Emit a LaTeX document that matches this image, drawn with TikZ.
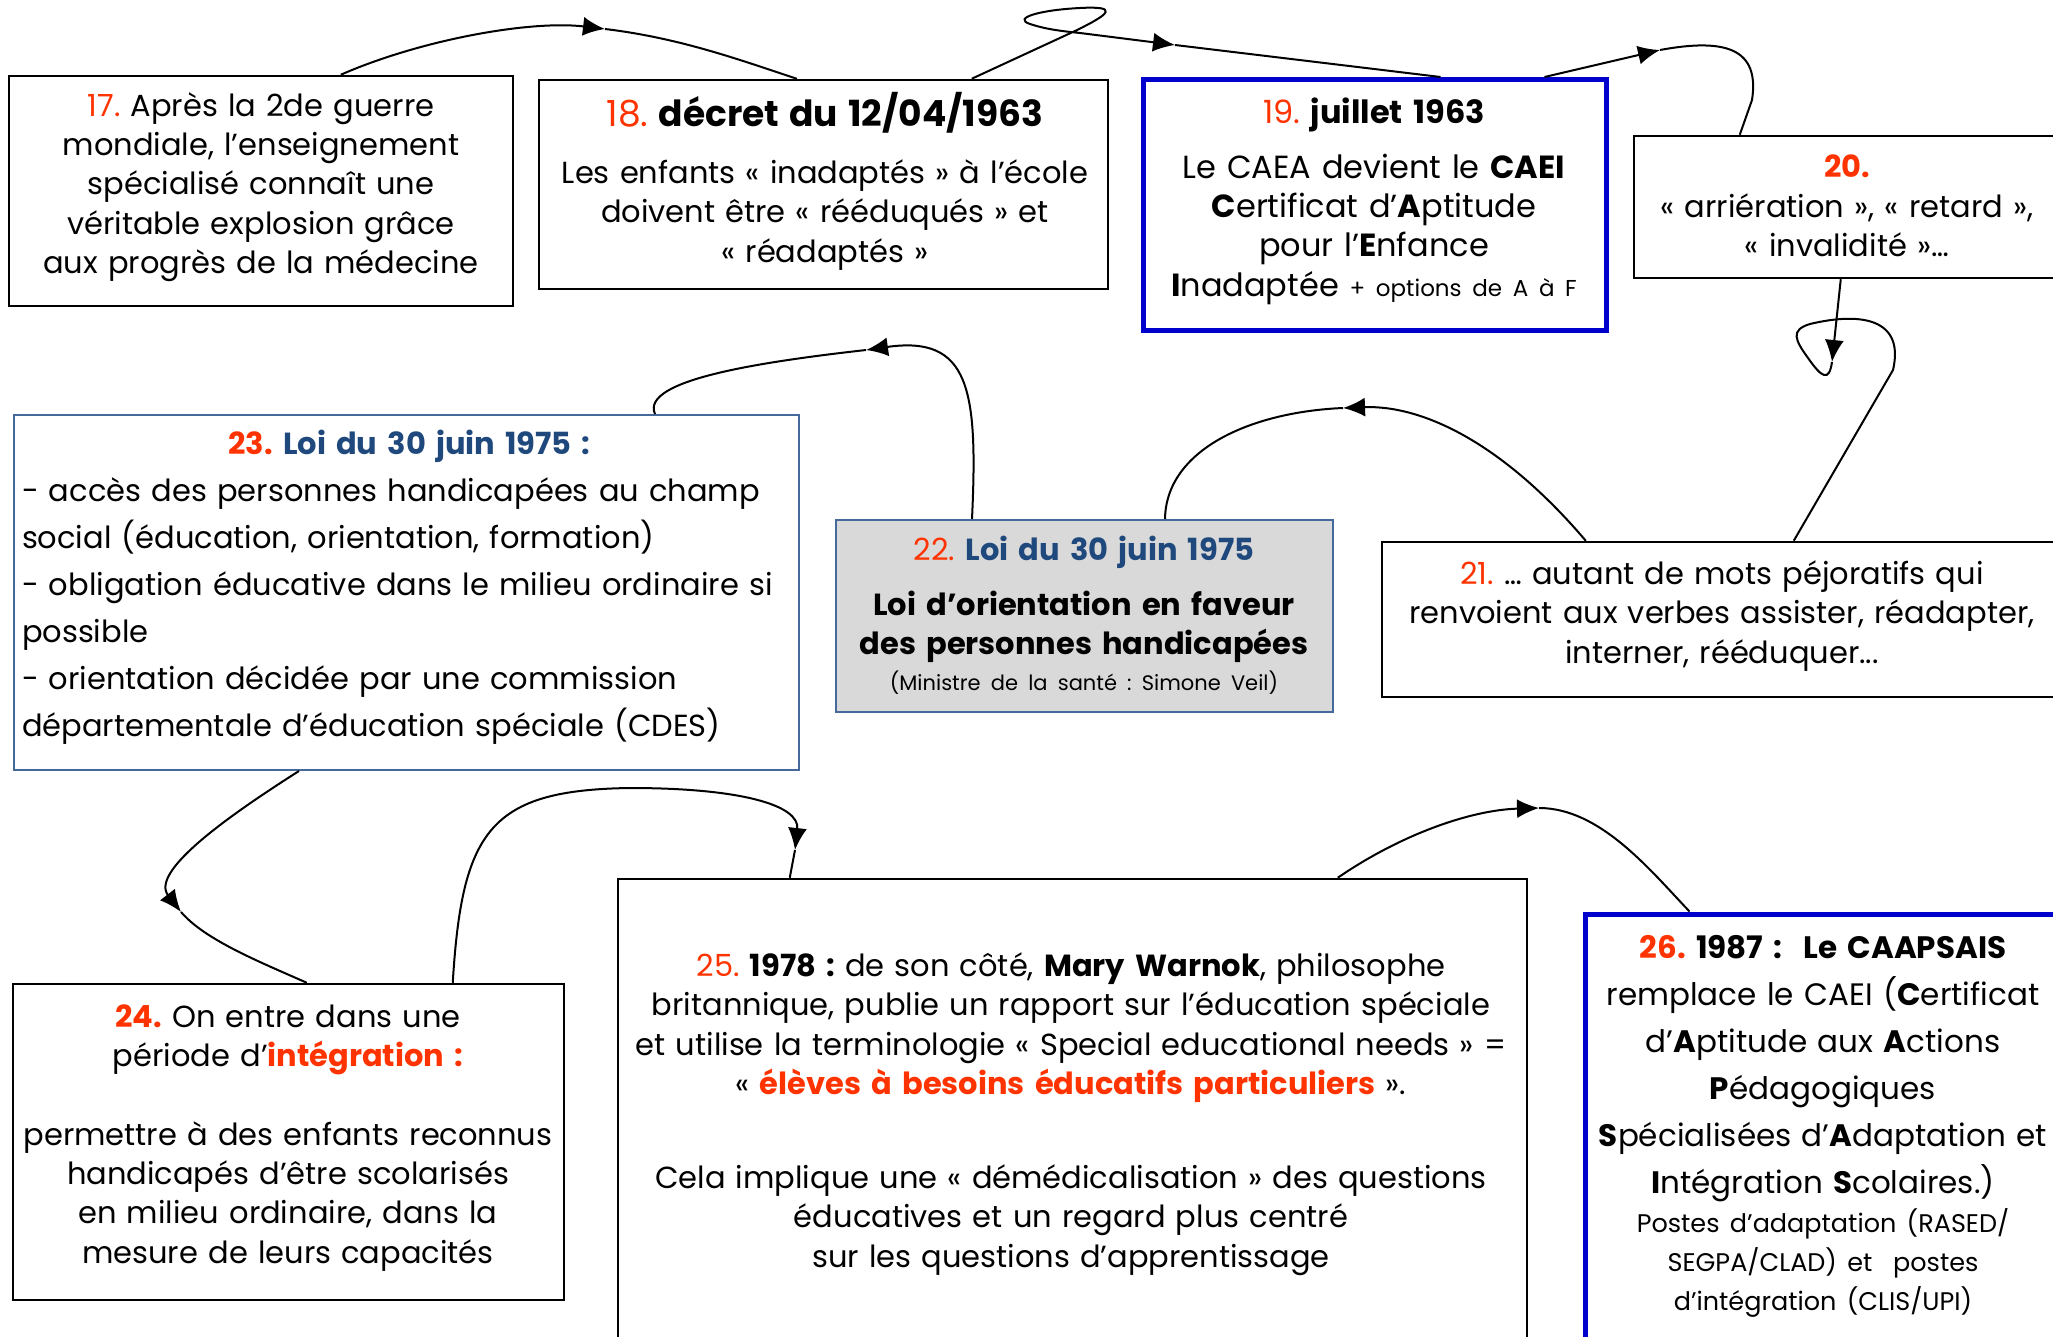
\documentclass[tikz,border=0pt]{standalone}
\usepackage{fontspec}
\setmainfont{Poppins}
\frenchspacing
\usetikzlibrary{arrows.meta,calc}
\definecolor{nummer}{RGB}{255,51,0}
\definecolor{tittel}{RGB}{31,73,125}
\definecolor{blaa}{RGB}{0,0,204}
\definecolor{staal}{RGB}{70,105,155}
\definecolor{graa}{RGB}{217,217,217}
\newcommand{\nr}[1]{\textcolor{nummer}{#1}}
\tikzset{
    %Define standard arrow tip
    >={Latex[length=22pt,width=19pt]},
    %Define style for boxes
    boks/.style={
           rectangle,
           draw=black, line width=2.5pt,
           inner sep=0pt},
    boksblaa/.style={boks, draw=blaa, line width=5pt},
    bokslov/.style={boks, draw=staal, line width=2pt},
    tekst/.style={
           align=center,
           inner sep=0pt,
           font=\fontsize{30.5}{39.3}\selectfont},
    % Define arrow style
    pil/.style={line width=2pt}
}
\begin{document}
\begin{tikzpicture}[x=1pt,y=-1pt]
\useasboundingbox (0,0) rectangle (2053,1337);
 %boxes
\node[boks, minimum width=504, minimum height=230] (17) at (261,191) {};
\node[boks, minimum width=569, minimum height=209] (18) at (823.5,184.5) {};
\node[boksblaa, minimum width=463, minimum height=251] (19) at (1374.5,205) {};
\node[boks, minimum width=446, minimum height=142] (20) at (1857,207) {};
\node[bokslov, minimum width=785, minimum height=355] (23) at (406.5,592.5) {};
\node[bokslov, fill=graa, minimum width=497, minimum height=192] (22) at (1084.5,616) {};
\node[boks, minimum width=698, minimum height=155] (21) at (1731,619.5) {};
\node[boks, minimum width=551, minimum height=316] (24) at (288.5,1142) {};
\node[boks, minimum width=909, minimum height=481] (25) at (1072.5,1119.5) {};
\node[boksblaa, minimum width=495, minimum height=446] (26) at (1832.5,1137) {};

 %texts
\node[tekst, text width=500] (t17) at (261,187) {\nr{17.} Après la 2de guerre\\ mondiale, l’enseignement\\ spécialisé connaît une\\ véritable explosion grâce\\ aux progrès de la médecine};
\node[tekst, text width=600] (t18) at (825,181) {{\fontsize{36}{44}\selectfont\nr{18.} \textbf{décret du 12/04/1963}}\\[18pt] Les enfants « inadaptés » à l’école\\ doivent être « rééduqués » et\\ « réadaptés »};
\node[tekst, text width=460, font=\fontsize{32}{39.3}\selectfont] (t19) at (1374,201) {\nr{19.} \textbf{juillet 1963}\\[16pt] Le CAEA devient le \textbf{CAEI}\\ \textbf{C}ertificat d’\textbf{A}ptitude\\ pour l’\textbf{E}nfance\\ \textbf{I}nadaptée {\fontsize{23}{28}\selectfont + options de A à F}};
\node[tekst, text width=440] (t20) at (1847,206) {\nr{\textbf{20.}}\\ « arriération », « retard »,\\ « invalidité »…};
\node[tekst, text width=775, align=left, font=\fontsize{30.5}{47}\selectfont] (t23) at (409.5,587) {{\centering\textbf{\nr{23.} \textcolor{tittel}{Loi du 30 juin 1975 :}}\par}
- accès des personnes handicapées au champ\\ social (éducation, orientation, formation)\\ - obligation éducative dans le milieu ordinaire si\\ possible\\ - orientation décidée par une commission\\ départementale d’éducation spéciale (CDES)};
\node[tekst, text width=490] (t22) at (1084,615) {\nr{22.} \textbf{\textcolor{tittel}{Loi du 30 juin 1975}}\\[16pt] \textbf{Loi d’orientation en faveur}\\ \textbf{des personnes handicapées}\\[-4pt] {\fontsize{21}{26}\selectfont (Ministre de la santé : Simone Veil)}};
\node[tekst, text width=680] (t21) at (1722,616) {\nr{21.} … autant de mots péjoratifs qui\\ renvoient aux verbes assister, réadapter,\\ interner, rééduquer...};
\node[tekst, text width=560] (t24) at (288,1138) {\nr{\textbf{24.}} On entre dans une\\ période d’\nr{\textbf{intégration :}}\\[39pt] permettre à des enfants reconnus\\ handicapés d’être scolarisés\\ en milieu ordinaire, dans la\\ mesure de leurs capacités};
\node[tekst, text width=1000] (t25) at (1071,1114) {\nr{25.} \textbf{1978 :} de son côté, \textbf{Mary Warnok}, philosophe\\ britannique, publie un rapport sur l’éducation spéciale\\ et utilise la terminologie « Special educational needs » =\\ « \nr{\textbf{élèves à besoins éducatifs particuliers}} ».\\[55pt] Cela implique une « démédicalisation » des questions\\ éducatives et un regard plus centré\\ sur les questions d’apprentissage};
\node[tekst, text width=520, font=\fontsize{31}{47}\selectfont] (t26) at (1823,1126) {\nr{\textbf{26.}} \textbf{1987 :~ Le CAAPSAIS}\\ remplace le CAEI (\textbf{C}ertificat\\ d’\textbf{A}ptitude aux \textbf{A}ctions\\ \textbf{P}édagogiques\\ \textbf{S}pécialisées d’\textbf{A}daptation et\\ \textbf{I}ntégration \textbf{S}colaires.)\par
{\fontsize{25.5}{39}\selectfont Postes d’adaptation (RASED/\\ SEGPA/CLAD) et~ postes\\ d’intégration (CLIS/UPI)\par}};

 %arrow tips
\coordinate (p18) at (605,29);
\coordinate (p19) at (1175,45);
\coordinate (p20) at (1660,50);
\coordinate (p21) at (1832,362);
\coordinate (p22) at (1343,408);
\coordinate (p23) at (866,350);
\coordinate (p24) at (181,912);
\coordinate (p25) at (795,850);
\coordinate (p26) at (1539,808);

 %edges
\draw[pil,->] ($(17.north west)+(333,0)$) .. controls (420,40) and (530,20) .. (p18);
\draw[pil] (p18) .. controls (680,38) and (740,60) .. ($(18.north west)+(259,0)$);
\draw[pil,->] ($(18.north west)+(434,0)$) -- (1075,31) .. controls (1112,13) and (1118,6) .. (1080,8) .. controls (1040,10) and (1012,18) .. (1030,24) .. controls (1045,29) and (1060,31) .. (1080,33) -- (p19);
\draw[pil] (p19) -- ($(19.north west)+(300,0)$);
\draw[pil,->] ($(19.north west)+(404,0)$) -- (p20);
\draw[pil] (p20) .. controls (1725,38) and (1760,48) .. (1752,100) -- ($(20.north west)+(107,0)$);
\draw[pil,->] ($(20.south west)+(208,0)$) -- (p21);
\draw[pil] (p21) .. controls (1829,382) and (1822,378) .. (1808,358) .. controls (1795,340) and (1790,330) .. (1810,324) .. controls (1860,312) and (1905,318) .. (1893,370) -- ($(21.north west)+(413,0)$);
\draw[pil,->] ($(21.north west)+(205,0)$) .. controls (1500,440) and (1420,405) .. (p22);
\draw[pil] (p22) .. controls (1250,412) and (1166,450) .. ($(22.north west)+(330,0)$);
\draw[pil,->] ($(22.north west)+(137,0)$) .. controls (978,390) and (970,335) .. (p23);
\draw[pil] (p23) .. controls (760,362) and (640,380) .. ($(23.north west)+(642,0)$);
\draw[pil,->] ($(23.south west)+(286,0)$) .. controls (225,818) and (150,872) .. (p24);
\draw[pil] (p24) .. controls (205,940) and (260,962) .. ($(24.north west)+(295,0)$);
\draw[pil,->] ($(24.north west)+(441,0)$) .. controls (462,830) and (490,790) .. (630,788) .. controls (740,788) and (800,805) .. (p25);
\draw[pil] (p25) -- ($(25.north west)+(173,0)$);
\draw[pil,->] ($(25.north west)+(721,0)$) .. controls (1400,835) and (1470,810) .. (p26);
\draw[pil] (p26) .. controls (1600,808) and (1650,870) .. ($(26.north west)+(107,0)$);
\end{tikzpicture}
\end{document}
